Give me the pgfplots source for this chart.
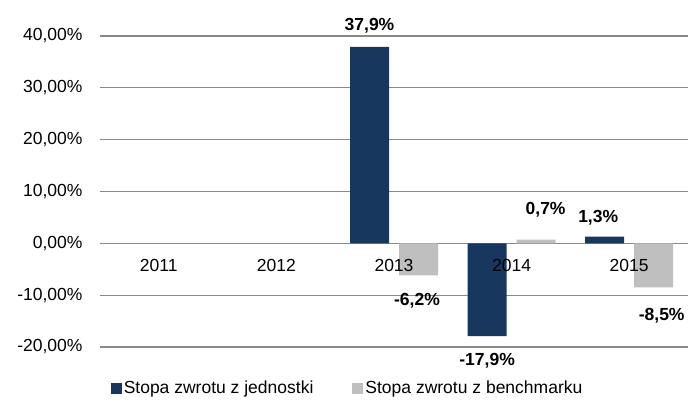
\documentclass[border=0pt]{standalone}
\usepackage{pgfplots}
\pgfplotsset{compat=1.18}
\usepackage{pgfplotstable}
\usepackage{fontspec}
\setmainfont{Liberation Sans}
\definecolor{navy}{HTML}{17375E}
\definecolor{lgray}{HTML}{BFBFBF}
\definecolor{gridgray}{HTML}{898989}
\pgfplotstableread{
x y dx dy
2 37.9 0 21
3 -17.9 0 -25
4 1.3 -6.5 19
}\seriesA
\pgfplotstableread{
x y dx dy
2 -6.2 -1.5 -25
3 0.7 9.5 30
4 -8.5 8 -28
}\seriesB
\begin{document}
\begin{tikzpicture}
\begin{axis}[
  at={(100pt,56pt)}, anchor=south west,
  scale only axis, width=588pt, height=311pt,
  font=\fontsize{17.5}{21}\selectfont,
  /pgf/number format/assume math mode=true,
  ybar=10pt, bar width=39pt,
  xmin=-0.5, xmax=4.5, ymin=-20, ymax=40,
  ytick={-20,-10,0,10,20,30,40},
  yticklabel={\pgfmathprintnumber[fixed,fixed zerofill,precision=2,use comma]{\tick}\%},
  yticklabel style={xshift=-14pt},
  xtick={0,1,2,3,4},
  xticklabels={},
  ymajorgrids, major grid style={gridgray, line width=1.2pt},
  axis line style={draw=none},
  major tick style={draw=none},
  clip=false,
  nodes near coords={\pgfmathprintnumber[fixed,fixed zerofill,precision=1,use comma]{\pgfplotspointmeta}\%},
  visualization depends on={\thisrow{dx}\as\dxv},
  visualization depends on={\thisrow{dy}\as\dyv},
  every node near coord/.append style={font=\fontsize{17.5}{21}\selectfont\bfseries, anchor=center, xshift=\dxv pt, yshift=\dyv pt, inner sep=0pt},
  legend columns=2,
  legend style={at={(0.421,-0.132)}, anchor=center, draw=none, fill=none,
    /tikz/every even column/.append style={column sep=37pt},
    font=\fontsize{17.5}{21}\selectfont},
  legend image code/.code={\fill[#1] (0pt,-5.5pt) rectangle (11pt,5.5pt);},
]
\addplot[fill=navy, draw=none] table[x=x,y=y] {\seriesA};
\addplot[fill=lgray, draw=none] table[x=x,y=y] {\seriesB};
\legend{Stopa zwrotu z jednostki, Stopa zwrotu z benchmarku}
\end{axis}
\begin{axis}[
  at={(100pt,56pt)}, anchor=south west,
  scale only axis, width=588pt, height=311pt,
  font=\fontsize{17.5}{21}\selectfont,
  xmin=-0.5, xmax=4.5, ymin=-20, ymax=40,
  ytick=\empty,
  xtick={0,1,2,3,4},
  xticklabels={2011,2012,2013,2014,2015},
  xticklabel style={anchor=center, yshift=82pt},
  axis line style={draw=none},
  major tick style={draw=none},
]
\end{axis}
\pgfresetboundingbox
\useasboundingbox (0,0) rectangle (688pt,403pt);
\end{tikzpicture}
\end{document}
